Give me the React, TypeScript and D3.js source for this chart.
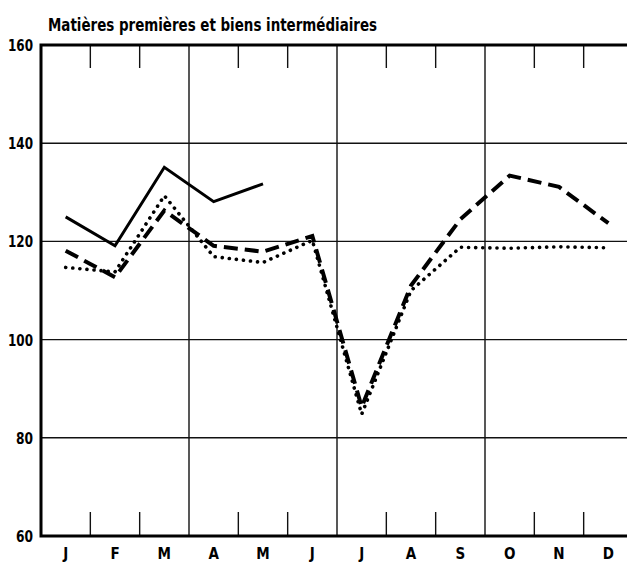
import { useEffect, useRef } from "react";
import * as d3 from "d3";

const W = 627,
  H = 563;
const margin = { top: 45, left: 41, bottom: 27 };
const plotRight = 633; // the frame runs past the right edge of the page

const months = ["J", "F", "M", "A", "M", "J", "J", "A", "S", "O", "N", "D"];
const yTicks = [60, 80, 100, 120, 140, 160];

// three series
const solidSeries = [125, 119.1, 135.1, 128.1, 131.7];
const dashedSeries = [118.1, 112.7, 126.3, 119.1, 117.9, 121.1, 86.3, 111, 124.5, 133.4, 131.1, 123.7];
const dottedSeries = [114.7, 113.8, 129.3, 116.9, 115.7, 120.2, 84.8, 110, 118.8, 118.6, 118.9, 118.7];

const font = "'Liberation Sans Narrow', 'DejaVu Sans Condensed', 'Roboto', sans-serif";

function App() {
  const svgRef = useRef(null);

  useEffect(() => {
    const svg = d3.select(svgRef.current);
    svg.selectAll("*").remove();

    const x = d3
      .scaleBand<number>()
      .domain(d3.range(12))
      .range([margin.left, plotRight]);
    const y = d3
      .scaleLinear()
      .domain([60, 160])
      .range([H - margin.bottom, margin.top]);

    const top = y(160),
      bottom = y(60);

    // horizontal grid
    svg
      .selectAll("line.grid")
      .data([80, 100, 120, 140])
      .enter()
      .append("line")
      .attr("x1", margin.left)
      .attr("x2", plotRight)
      .attr("y1", (d) => y(d))
      .attr("y2", (d) => y(d))
      .attr("stroke", "#111")
      .attr("stroke-width", 1.4);

    // month boundaries: quarters get a full line, the rest short ticks
    const bounds = d3.range(1, 12);
    bounds.forEach((i) => {
      const bx = x(i) as number;
      if (i % 3 === 0) {
        svg
          .append("line")
          .attr("x1", bx)
          .attr("x2", bx)
          .attr("y1", top)
          .attr("y2", bottom)
          .attr("stroke", "#111")
          .attr("stroke-width", 1.4);
      } else {
        svg
          .append("line")
          .attr("x1", bx)
          .attr("x2", bx)
          .attr("y1", top)
          .attr("y2", top + 23)
          .attr("stroke", "#111")
          .attr("stroke-width", 1.4);
        svg
          .append("line")
          .attr("x1", bx)
          .attr("x2", bx)
          .attr("y1", bottom - 24)
          .attr("y2", bottom)
          .attr("stroke", "#111")
          .attr("stroke-width", 1.4);
      }
    });

    // frame
    svg
      .append("path")
      .attr("d", `M${plotRight},${top}H${margin.left}V${bottom}H${plotRight}`)
      .attr("fill", "none")
      .attr("stroke", "#000")
      .attr("stroke-width", 3);

    // y labels
    svg
      .selectAll("text.ylab")
      .data(yTicks)
      .enter()
      .append("text")
      .attr("x", 33)
      .attr("y", (d) => y(d) + 6)
      .attr("text-anchor", "end")
      .attr("font-family", font)
      .attr("font-weight", "bold")
      .attr("font-size", 15)
      .attr("textLength", (d) => (String(d).length === 3 ? 25 : 17))
      .attr("lengthAdjust", "spacingAndGlyphs")
      .text((d) => d);

    // month labels
    svg
      .selectAll("text.xlab")
      .data(months)
      .enter()
      .append("text")
      .attr("x", (d, i) => (x(i) as number) + x.bandwidth() / 2)
      .attr("y", 559)
      .attr("text-anchor", "middle")
      .attr("font-family", font)
      .attr("font-weight", "bold")
      .attr("font-size", 15)
      .text((d) => d);

    // title
    svg
      .append("text")
      .attr("x", 48)
      .attr("y", 31)
      .attr("font-family", font)
      .attr("font-weight", "bold")
      .attr("font-size", 17)
      .attr("textLength", 329)
      .attr("lengthAdjust", "spacingAndGlyphs")
      .text("Matières premières et biens intermédiaires");

    const line = d3
      .line<number>()
      .x((d, i) => (x(i) as number) + x.bandwidth() / 2)
      .y((d) => y(d));

    svg
      .append("path")
      .attr("d", line(dottedSeries))
      .attr("fill", "none")
      .attr("stroke", "#000")
      .attr("stroke-width", 3.6)
      .attr("stroke-linecap", "round")
      .attr("stroke-dasharray", "0.1 7");

    svg
      .append("path")
      .attr("d", line(dashedSeries))
      .attr("fill", "none")
      .attr("stroke", "#000")
      .attr("stroke-width", 4)
      .attr("stroke-dasharray", "14 7");

    svg
      .append("path")
      .attr("d", line(solidSeries))
      .attr("fill", "none")
      .attr("stroke", "#000")
      .attr("stroke-width", 3)
      .attr("stroke-linejoin", "miter");
  }, []);

  return (
    <svg
      ref={svgRef}
      width={W}
      height={H}
      style={{ position: "absolute", left: 0, top: 0, background: "#fff" }}
    ></svg>
  );
}

export default App;
